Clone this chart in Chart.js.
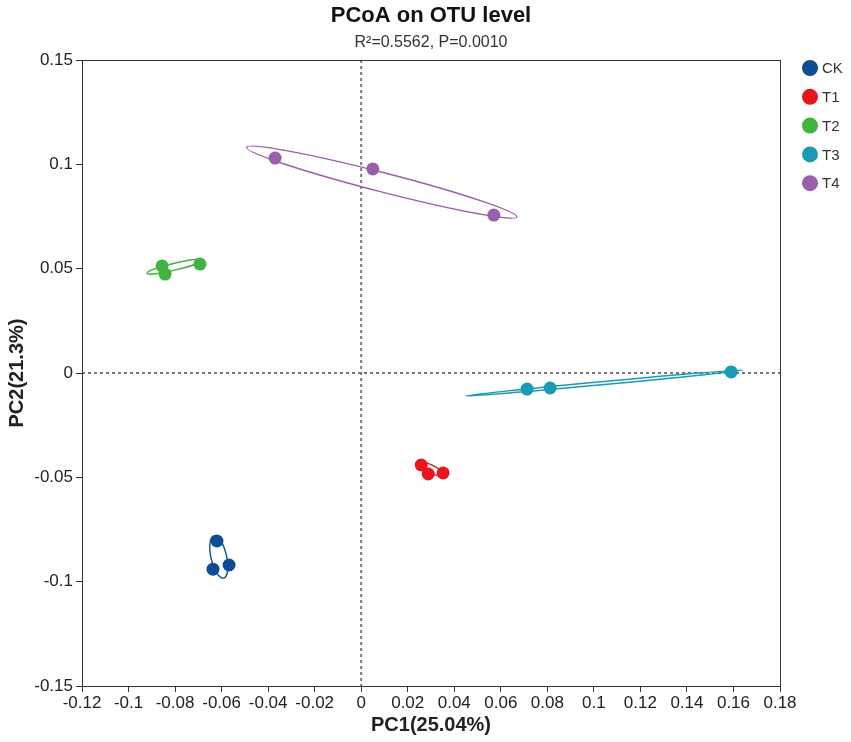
<!DOCTYPE html>
<html>
<head>
<meta charset="utf-8">
<script src="https://cdn.jsdelivr.net/npm/chart.js@4/dist/chart.umd.min.js"></script>
<style>
  html, body { margin: 0; padding: 0; background: #fff; }
  #wrap { width: 851px; height: 742px; }
</style>
</head>
<body>
<div id="wrap"><canvas id="pcoa"></canvas></div>
<script>
// -------------------------------
// DATA
// -------------------------------
const groups = ['CK', 'T1', 'T2', 'T3', 'T4'];
const colors = ['#0f4c96', '#e8161c', '#41b33f', '#1a9bb5', '#9a5fab'];

// sample coordinates per group (3 replicates each)
const pc1 = [
    [-0.0620, -0.0637, -0.0568],
    [0.0258, 0.0288, 0.0352],
    [-0.0856, -0.0843, -0.0693],
    [0.0713, 0.0812, 0.1590],
    [-0.0370, 0.0050, 0.0570]
];
const pc2 = [
    [-0.0805, -0.0940, -0.0920],
    [-0.0441, -0.0484, -0.0479],
    [0.0513, 0.0474, 0.0522],
    [-0.0077, -0.0072, 0.0005],
    [0.1030, 0.0978, 0.0757]
];

// confidence ellipses: centre, end of major axis, minor/major ratio
const ellCenterX = [-0.0612, 0.0300, -0.0800, 0.1044, 0.0088];
const ellCenterY = [-0.0882, -0.0460, 0.0510, -0.0048, 0.0915];
const ellAxisX = [-0.0633, 0.0248, -0.0680, 0.1640, 0.0669];
const ellAxisY = [-0.0781, -0.0431, 0.0542, 0.0014, 0.0748];
const ellRatio = [0.36, 0.30, 0.12, 0.011, 0.069];

const xTicks = [-0.12, -0.1, -0.08, -0.06, -0.04, -0.02, 0, 0.02, 0.04, 0.06, 0.08, 0.1, 0.12, 0.14, 0.16, 0.18];
const yTicks = [-0.15, -0.1, -0.05, 0, 0.05, 0.1, 0.15];

const titleText = 'PCoA on OTU level';
const subtitleText = 'R²=0.5562, P=0.0010';

const FONT = 'Arial, "Liberation Sans", sans-serif';

// ellipses + zero lines + box, drawn under the points
const overlay = {
    id: 'overlay',
    beforeDatasetsDraw(chart) {
        const { ctx, chartArea: a, scales: { x, y } } = chart;
        ctx.save();
        ctx.beginPath();
        ctx.rect(a.left, a.top, a.right - a.left, a.bottom - a.top);
        ctx.clip();

        // dashed zero lines
        ctx.strokeStyle = '#777';
        ctx.lineWidth = 2;
        ctx.setLineDash([3, 3]);
        const x0 = x.getPixelForValue(0), y0 = y.getPixelForValue(0);
        ctx.beginPath();
        ctx.moveTo(x0, a.top); ctx.lineTo(x0, a.bottom);
        ctx.moveTo(a.left, y0); ctx.lineTo(a.right, y0);
        ctx.stroke();
        ctx.setLineDash([]);

        // ellipses
        groups.forEach((g, i) => {
            const cx = x.getPixelForValue(ellCenterX[i]);
            const cy = y.getPixelForValue(ellCenterY[i]);
            const dx = x.getPixelForValue(ellAxisX[i]) - cx;
            const dy = y.getPixelForValue(ellAxisY[i]) - cy;
            const r = Math.hypot(dx, dy);
            ctx.strokeStyle = colors[i];
            ctx.lineWidth = 1.4;
            ctx.beginPath();
            ctx.ellipse(cx, cy, r, Math.max(r * ellRatio[i], 0.8), Math.atan2(dy, dx), 0, Math.PI * 2);
            ctx.stroke();
        });
        ctx.restore();

        // box around plot
        ctx.save();
        ctx.strokeStyle = '#333';
        ctx.lineWidth = 1;
        ctx.strokeRect(a.left + 0.5, a.top + 0.5, a.right - a.left, a.bottom - a.top);
        ctx.restore();
    },
    afterDraw(chart) {
        const { ctx, chartArea: a } = chart;
        const mid = (a.left + a.right) / 2;
        ctx.save();
        ctx.textAlign = 'center';
        ctx.textBaseline = 'middle';
        ctx.fillStyle = '#111';
        ctx.font = 'bold 22px ' + FONT;
        ctx.fillText(titleText, mid, 16);
        ctx.fillStyle = '#333';
        ctx.font = '16px ' + FONT;
        ctx.fillText(subtitleText, mid, 43);

        // legend on the right
        ctx.textAlign = 'left';
        ctx.font = '15px ' + FONT;
        groups.forEach((g, i) => {
            const cy = 68 + i * 28.8;
            ctx.fillStyle = colors[i];
            ctx.beginPath();
            ctx.arc(810, cy, 8, 0, Math.PI * 2);
            ctx.fill();
            ctx.fillStyle = '#333';
            ctx.fillText(g, 822, cy + 1);
        });
        ctx.restore();
    }
};

const ctx = document.getElementById('pcoa');

new Chart(ctx, {
    type: 'scatter',
    data: {
        datasets: groups.map((g, i) => ({
            label: g,
            data: pc1[i].map((v, j) => ({ x: v, y: pc2[i][j] })),
            backgroundColor: colors[i],
            borderWidth: 0,
            pointRadius: 6.5,
            pointHoverRadius: 6.5
        }))
    },
    options: {
        responsive: true,
        maintainAspectRatio: false,
        devicePixelRatio: 1,
        animation: false,
        layout: { padding: { left: 0, right: 71, top: 60, bottom: 0 } },
        plugins: {
            legend: { display: false },
            tooltip: { enabled: false },
            title: { display: false },
            subtitle: { display: false }
        },
        scales: {
            x: {
                type: 'linear',
                min: -0.12,
                max: 0.18,
                afterBuildTicks: s => { s.ticks = xTicks.map(v => ({ value: v })); },
                afterFit: s => { s.height = 56; },
                ticks: {
                    color: '#222',
                    font: { family: FONT, size: 17 },
                    padding: 1,
                    maxRotation: 0,
                    autoSkip: false,
                    callback: v => String(parseFloat(v.toFixed(2)))
                },
                grid: { drawOnChartArea: false, tickLength: 6, color: '#333' },
                border: { color: '#333' },
                title: {
                    display: true,
                    text: 'PC1(25.04%)',
                    color: '#222',
                    font: { family: FONT, size: 20, weight: 'bold' },
                    padding: { top: 0, bottom: 5 }
                }
            },
            y: {
                type: 'linear',
                min: -0.15,
                max: 0.15,
                afterBuildTicks: s => { s.ticks = yTicks.map(v => ({ value: v })); },
                afterFit: s => { s.width = 82; },
                ticks: {
                    color: '#222',
                    font: { family: FONT, size: 17 },
                    padding: 3,
                    callback: v => String(parseFloat(v.toFixed(2)))
                },
                grid: { drawOnChartArea: false, tickLength: 6, color: '#333' },
                border: { color: '#333' },
                title: {
                    display: true,
                    text: 'PC2(21.3%)',
                    color: '#222',
                    font: { family: FONT, size: 20, weight: 'bold' },
                    padding: { top: 5, bottom: 0 }
                }
            }
        }
    },
    plugins: [overlay]
});
</script>
</body>
</html>
